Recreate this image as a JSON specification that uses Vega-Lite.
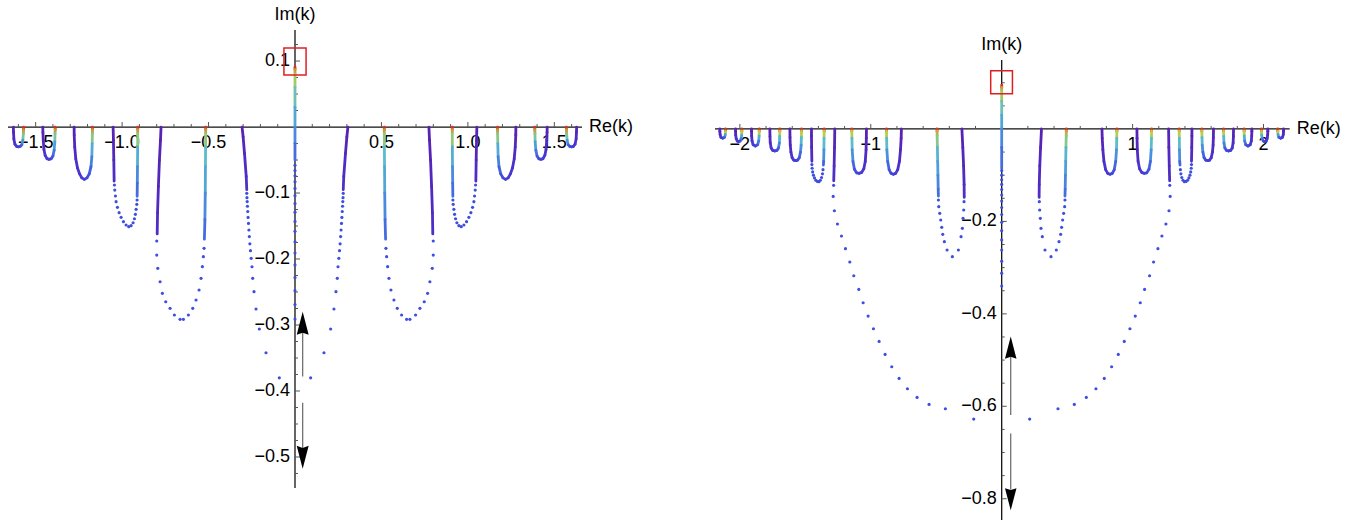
{
"$schema":"https://vega.github.io/schema/vega-lite/v6.json",
"background":"white",
"padding":0,
"config":{"view":{"stroke":null}},
"spacing":133,
"bounds":"flush",
"datasets":{
"axL":[{"x":-1.66,"y":0,"x2":1.66,"y2":0},{"x":0,"y":-0.547,"x2":0,"y2":0.147}],
"axR":[{"x":-2.19,"y":0,"x2":2.2,"y2":0},{"x":0,"y":-0.846,"x2":0,"y2":0.149}],
"xmajL":[{"v":-1.5},{"v":-1},{"v":-0.5},{"v":0.5},{"v":1},{"v":1.5}],
"xminL":[{"v":-1.6},{"v":-1.4},{"v":-1.3},{"v":-1.2},{"v":-1.1},{"v":-0.9},{"v":-0.8},{"v":-0.7},{"v":-0.6},{"v":-0.4},{"v":-0.3},{"v":-0.2},{"v":-0.1},{"v":0.1},{"v":0.2},{"v":0.3},{"v":0.4},{"v":0.6},{"v":0.7},{"v":0.8},{"v":0.9},{"v":1.1},{"v":1.2},{"v":1.3},{"v":1.4},{"v":1.6}],
"ymajL":[{"v":-0.5},{"v":-0.4},{"v":-0.3},{"v":-0.2},{"v":-0.1},{"v":0.1}],
"yminL":[{"v":-0.525},{"v":-0.475},{"v":-0.45},{"v":-0.425},{"v":-0.375},{"v":-0.35},{"v":-0.325},{"v":-0.275},{"v":-0.25},{"v":-0.225},{"v":-0.175},{"v":-0.15},{"v":-0.125},{"v":-0.075},{"v":-0.05},{"v":-0.025},{"v":0.025},{"v":0.05},{"v":0.075},{"v":0.125}],
"xmajR":[{"v":-2},{"v":-1},{"v":1},{"v":2}],
"xminR":[{"v":-1.8},{"v":-1.6},{"v":-1.4},{"v":-1.2},{"v":-0.8},{"v":-0.6},{"v":-0.4},{"v":-0.2},{"v":0.2},{"v":0.4},{"v":0.6},{"v":0.8},{"v":1.2},{"v":1.4},{"v":1.6},{"v":1.8}],
"ymajR":[{"v":-0.8},{"v":-0.6},{"v":-0.4},{"v":-0.2}],
"yminR":[{"v":-0.75},{"v":-0.7},{"v":-0.65},{"v":-0.55},{"v":-0.5},{"v":-0.45},{"v":-0.35},{"v":-0.3},{"v":-0.25},{"v":-0.15},{"v":-0.1},{"v":-0.05},{"v":0.05},{"v":0.1}],
"cL":[
{"c":"L0","x":0,"y":0.091,"t":1},{"c":"L0","x":0,"y":0.087,"t":0.93},{"c":"L0","x":0,"y":0.08,"t":0.88},{"c":"L0","x":0,"y":0.06,"t":0.82},{"c":"L0","x":0,"y":0.03,"t":0.74},{"c":"L0","x":0,"y":0,"t":0.66},{"c":"L0","x":0,"y":-0.025,"t":0.58},{"c":"L0","x":0,"y":-0.05,"t":0.5},
{"c":"L1","x":-1.57,"y":0,"t":1},{"c":"L1","x":-1.57,"y":-0.004,"t":0.93},{"c":"L1","x":-1.571,"y":-0.01,"t":0.84},{"c":"L1","x":-1.574,"y":-0.02,"t":0.7},{"c":"L1","x":-1.58,"y":-0.027,"t":0.55},{"c":"L1","x":-1.59,"y":-0.0295,"t":0.45},{"c":"L1","x":-1.6,"y":-0.03,"t":0.4},{"c":"L1","x":-1.61,"y":-0.0295,"t":0.35},{"c":"L1","x":-1.62,"y":-0.026,"t":0.28},{"c":"L1","x":-1.626,"y":-0.018,"t":0.18},{"c":"L1","x":-1.628,"y":-0.008,"t":0.08},{"c":"L1","x":-1.629,"y":0,"t":0},
{"c":"L1p","x":1.57,"y":0,"t":1},{"c":"L1p","x":1.57,"y":-0.004,"t":0.93},{"c":"L1p","x":1.571,"y":-0.01,"t":0.84},{"c":"L1p","x":1.574,"y":-0.02,"t":0.7},{"c":"L1p","x":1.58,"y":-0.027,"t":0.55},{"c":"L1p","x":1.59,"y":-0.0295,"t":0.45},{"c":"L1p","x":1.6,"y":-0.03,"t":0.4},{"c":"L1p","x":1.61,"y":-0.0295,"t":0.35},{"c":"L1p","x":1.62,"y":-0.026,"t":0.28},{"c":"L1p","x":1.626,"y":-0.018,"t":0.18},{"c":"L1p","x":1.628,"y":-0.008,"t":0.08},{"c":"L1p","x":1.629,"y":0,"t":0},
{"c":"L2","x":-1.387,"y":0,"t":1},{"c":"L2","x":-1.387,"y":-0.004,"t":0.93},{"c":"L2","x":-1.388,"y":-0.01,"t":0.84},{"c":"L2","x":-1.389,"y":-0.022,"t":0.72},{"c":"L2","x":-1.393,"y":-0.035,"t":0.6},{"c":"L2","x":-1.4,"y":-0.044,"t":0.5},{"c":"L2","x":-1.41,"y":-0.048,"t":0.44},{"c":"L2","x":-1.422,"y":-0.049,"t":0.4},{"c":"L2","x":-1.434,"y":-0.048,"t":0.35},{"c":"L2","x":-1.445,"y":-0.043,"t":0.3},{"c":"L2","x":-1.452,"y":-0.034,"t":0.22},{"c":"L2","x":-1.456,"y":-0.02,"t":0.12},{"c":"L2","x":-1.458,"y":-0.008,"t":0.06},{"c":"L2","x":-1.4586,"y":0,"t":0},
{"c":"L2p","x":1.387,"y":0,"t":1},{"c":"L2p","x":1.387,"y":-0.004,"t":0.93},{"c":"L2p","x":1.388,"y":-0.01,"t":0.84},{"c":"L2p","x":1.389,"y":-0.022,"t":0.72},{"c":"L2p","x":1.393,"y":-0.035,"t":0.6},{"c":"L2p","x":1.4,"y":-0.044,"t":0.5},{"c":"L2p","x":1.41,"y":-0.048,"t":0.44},{"c":"L2p","x":1.422,"y":-0.049,"t":0.4},{"c":"L2p","x":1.434,"y":-0.048,"t":0.35},{"c":"L2p","x":1.445,"y":-0.043,"t":0.3},{"c":"L2p","x":1.452,"y":-0.034,"t":0.22},{"c":"L2p","x":1.456,"y":-0.02,"t":0.12},{"c":"L2p","x":1.458,"y":-0.008,"t":0.06},{"c":"L2p","x":1.4586,"y":0,"t":0},
{"c":"L3","x":-1.1715,"y":0,"t":1},{"c":"L3","x":-1.1715,"y":-0.004,"t":0.93},{"c":"L3","x":-1.172,"y":-0.01,"t":0.85},{"c":"L3","x":-1.173,"y":-0.025,"t":0.75},{"c":"L3","x":-1.175,"y":-0.045,"t":0.64},{"c":"L3","x":-1.18,"y":-0.06,"t":0.55},{"c":"L3","x":-1.19,"y":-0.071,"t":0.48},{"c":"L3","x":-1.203,"y":-0.077,"t":0.43},{"c":"L3","x":-1.218,"y":-0.0793,"t":0.39},{"c":"L3","x":-1.233,"y":-0.077,"t":0.34},{"c":"L3","x":-1.246,"y":-0.071,"t":0.29},{"c":"L3","x":-1.258,"y":-0.062,"t":0.24},{"c":"L3","x":-1.268,"y":-0.048,"t":0.18},{"c":"L3","x":-1.274,"y":-0.03,"t":0.11},{"c":"L3","x":-1.277,"y":-0.012,"t":0.05},{"c":"L3","x":-1.2775,"y":0,"t":0},
{"c":"L3p","x":1.1715,"y":0,"t":1},{"c":"L3p","x":1.1715,"y":-0.004,"t":0.93},{"c":"L3p","x":1.172,"y":-0.01,"t":0.85},{"c":"L3p","x":1.173,"y":-0.025,"t":0.75},{"c":"L3p","x":1.175,"y":-0.045,"t":0.64},{"c":"L3p","x":1.18,"y":-0.06,"t":0.55},{"c":"L3p","x":1.19,"y":-0.071,"t":0.48},{"c":"L3p","x":1.203,"y":-0.077,"t":0.43},{"c":"L3p","x":1.218,"y":-0.0793,"t":0.39},{"c":"L3p","x":1.233,"y":-0.077,"t":0.34},{"c":"L3p","x":1.246,"y":-0.071,"t":0.29},{"c":"L3p","x":1.258,"y":-0.062,"t":0.24},{"c":"L3p","x":1.268,"y":-0.048,"t":0.18},{"c":"L3p","x":1.274,"y":-0.03,"t":0.11},{"c":"L3p","x":1.277,"y":-0.012,"t":0.05},{"c":"L3p","x":1.2775,"y":0,"t":0},
{"c":"L4a","x":-0.9095,"y":0,"t":1},{"c":"L4a","x":-0.9095,"y":-0.004,"t":0.93},{"c":"L4a","x":-0.9097,"y":-0.01,"t":0.86},{"c":"L4a","x":-0.91,"y":-0.03,"t":0.76},{"c":"L4a","x":-0.911,"y":-0.06,"t":0.66},{"c":"L4a","x":-0.912,"y":-0.085,"t":0.58},{"c":"L4a","x":-0.913,"y":-0.105,"t":0.52},
{"c":"L4b","x":-1.046,"y":-0.082,"t":0.2},{"c":"L4b","x":-1.048,"y":-0.05,"t":0.12},{"c":"L4b","x":-1.05,"y":-0.02,"t":0.05},{"c":"L4b","x":-1.052,"y":0,"t":0},
{"c":"L4ap","x":0.9095,"y":0,"t":1},{"c":"L4ap","x":0.9095,"y":-0.004,"t":0.93},{"c":"L4ap","x":0.9097,"y":-0.01,"t":0.86},{"c":"L4ap","x":0.91,"y":-0.03,"t":0.76},{"c":"L4ap","x":0.911,"y":-0.06,"t":0.66},{"c":"L4ap","x":0.912,"y":-0.085,"t":0.58},{"c":"L4ap","x":0.913,"y":-0.105,"t":0.52},
{"c":"L4bp","x":1.046,"y":-0.082,"t":0.2},{"c":"L4bp","x":1.048,"y":-0.05,"t":0.12},{"c":"L4bp","x":1.05,"y":-0.02,"t":0.05},{"c":"L4bp","x":1.052,"y":0,"t":0},
{"c":"L5a","x":-0.5164,"y":0,"t":1},{"c":"L5a","x":-0.5164,"y":-0.004,"t":0.93},{"c":"L5a","x":-0.5166,"y":-0.01,"t":0.86},{"c":"L5a","x":-0.517,"y":-0.03,"t":0.8},{"c":"L5a","x":-0.518,"y":-0.06,"t":0.74},{"c":"L5a","x":-0.519,"y":-0.1,"t":0.66},{"c":"L5a","x":-0.521,"y":-0.14,"t":0.58},{"c":"L5a","x":-0.524,"y":-0.17,"t":0.52},
{"c":"L5b","x":-0.797,"y":-0.162,"t":0.22},{"c":"L5b","x":-0.795,"y":-0.13,"t":0.17},{"c":"L5b","x":-0.79,"y":-0.09,"t":0.12},{"c":"L5b","x":-0.784,"y":-0.05,"t":0.07},{"c":"L5b","x":-0.778,"y":-0.02,"t":0.03},{"c":"L5b","x":-0.7746,"y":0,"t":0},
{"c":"L5ap","x":0.5164,"y":0,"t":1},{"c":"L5ap","x":0.5164,"y":-0.004,"t":0.93},{"c":"L5ap","x":0.5166,"y":-0.01,"t":0.86},{"c":"L5ap","x":0.517,"y":-0.03,"t":0.8},{"c":"L5ap","x":0.518,"y":-0.06,"t":0.74},{"c":"L5ap","x":0.519,"y":-0.1,"t":0.66},{"c":"L5ap","x":0.521,"y":-0.14,"t":0.58},{"c":"L5ap","x":0.524,"y":-0.17,"t":0.52},
{"c":"L5bp","x":0.797,"y":-0.162,"t":0.22},{"c":"L5bp","x":0.795,"y":-0.13,"t":0.17},{"c":"L5bp","x":0.79,"y":-0.09,"t":0.12},{"c":"L5bp","x":0.784,"y":-0.05,"t":0.07},{"c":"L5bp","x":0.778,"y":-0.02,"t":0.03},{"c":"L5bp","x":0.7746,"y":0,"t":0},
{"c":"L6","x":-0.279,"y":-0.095,"t":0.25},{"c":"L6","x":-0.282,"y":-0.075,"t":0.2},{"c":"L6","x":-0.292,"y":-0.04,"t":0.1},{"c":"L6","x":-0.3,"y":-0.015,"t":0.04},{"c":"L6","x":-0.306,"y":0,"t":0},
{"c":"L6p","x":0.279,"y":-0.095,"t":0.25},{"c":"L6p","x":0.282,"y":-0.075,"t":0.2},{"c":"L6p","x":0.292,"y":-0.04,"t":0.1},{"c":"L6p","x":0.3,"y":-0.015,"t":0.04},{"c":"L6p","x":0.306,"y":0,"t":0}
],
"dL":[
{"x":0,"y":-0.058},{"x":0,"y":-0.066},{"x":0,"y":-0.074},{"x":0,"y":-0.083},{"x":0,"y":-0.093},{"x":0,"y":-0.104},{"x":0,"y":-0.116},{"x":0,"y":-0.129},{"x":0,"y":-0.143},{"x":0,"y":-0.158},{"x":0,"y":-0.174},{"x":0,"y":-0.191},{"x":0,"y":-0.209},{"x":0,"y":-0.228},{"x":0,"y":-0.248},{"x":0,"y":-0.269},{"x":0,"y":-0.291},
{"x":-1.0444,"y":-0.0879},{"x":-1.0424,"y":-0.0955},{"x":-1.0385,"y":-0.1045},{"x":-1.0347,"y":-0.1131},{"x":-1.027,"y":-0.1217},{"x":-1.0173,"y":-0.1298},{"x":-1.0058,"y":-0.1369},{"x":-0.9923,"y":-0.1434},{"x":-0.9769,"y":-0.1485},{"x":-0.9615,"y":-0.151},{"x":-0.948,"y":-0.1495},{"x":-0.9364,"y":-0.145},{"x":-0.9287,"y":-0.139},{"x":-0.923,"y":-0.1323},{"x":-0.919,"y":-0.1247},{"x":-0.915,"y":-0.1172},{"x":-0.9133,"y":-0.1106},
{"x":1.0444,"y":-0.0879},{"x":1.0424,"y":-0.0955},{"x":1.0385,"y":-0.1045},{"x":1.0347,"y":-0.1131},{"x":1.027,"y":-0.1217},{"x":1.0173,"y":-0.1298},{"x":1.0058,"y":-0.1369},{"x":0.9923,"y":-0.1434},{"x":0.9769,"y":-0.1485},{"x":0.9615,"y":-0.151},{"x":0.948,"y":-0.1495},{"x":0.9364,"y":-0.145},{"x":0.9287,"y":-0.139},{"x":0.923,"y":-0.1323},{"x":0.919,"y":-0.1247},{"x":0.915,"y":-0.1172},{"x":0.9133,"y":-0.1106},
{"x":-0.7996,"y":-0.1727},{"x":-0.7996,"y":-0.194},{"x":-0.7938,"y":-0.2141},{"x":-0.7803,"y":-0.2344},{"x":-0.7669,"y":-0.252},{"x":-0.7476,"y":-0.2647},{"x":-0.7225,"y":-0.2747},{"x":-0.6975,"y":-0.2848},{"x":-0.6647,"y":-0.2914},{"x":-0.6455,"y":-0.2914},{"x":-0.6166,"y":-0.2848},{"x":-0.5915,"y":-0.2747},{"x":-0.5723,"y":-0.2621},{"x":-0.5549,"y":-0.247},{"x":-0.5434,"y":-0.2293},{"x":-0.5358,"y":-0.2116},{"x":-0.53,"y":-0.1965},{"x":-0.526,"y":-0.1838},
{"x":0.7996,"y":-0.1727},{"x":0.7996,"y":-0.194},{"x":0.7938,"y":-0.2141},{"x":0.7803,"y":-0.2344},{"x":0.7669,"y":-0.252},{"x":0.7476,"y":-0.2647},{"x":0.7225,"y":-0.2747},{"x":0.6975,"y":-0.2848},{"x":0.6647,"y":-0.2914},{"x":0.6455,"y":-0.2914},{"x":0.6166,"y":-0.2848},{"x":0.5915,"y":-0.2747},{"x":0.5723,"y":-0.2621},{"x":0.5549,"y":-0.247},{"x":0.5434,"y":-0.2293},{"x":0.5358,"y":-0.2116},{"x":0.53,"y":-0.1965},{"x":0.526,"y":-0.1838},
{"x":-0.279,"y":-0.1005},{"x":-0.2778,"y":-0.107},{"x":-0.2765,"y":-0.113},{"x":-0.275,"y":-0.12},{"x":-0.2733,"y":-0.128},{"x":-0.2713,"y":-0.137},{"x":-0.269,"y":-0.146},{"x":-0.2665,"y":-0.156},{"x":-0.264,"y":-0.166},{"x":-0.261,"y":-0.177},{"x":-0.2575,"y":-0.1874},{"x":-0.2535,"y":-0.199},{"x":-0.2486,"y":-0.2117},{"x":-0.2447,"y":-0.2293},{"x":-0.237,"y":-0.2495},{"x":-0.2254,"y":-0.2758},{"x":-0.2062,"y":-0.306},{"x":-0.1676,"y":-0.342},{"x":-0.0906,"y":-0.38},
{"x":0.279,"y":-0.1005},{"x":0.2778,"y":-0.107},{"x":0.2765,"y":-0.113},{"x":0.275,"y":-0.12},{"x":0.2733,"y":-0.128},{"x":0.2713,"y":-0.137},{"x":0.269,"y":-0.146},{"x":0.2665,"y":-0.156},{"x":0.264,"y":-0.166},{"x":0.261,"y":-0.177},{"x":0.2575,"y":-0.1874},{"x":0.2535,"y":-0.199},{"x":0.2486,"y":-0.2117},{"x":0.2447,"y":-0.2293},{"x":0.237,"y":-0.2495},{"x":0.2254,"y":-0.2758},{"x":0.2062,"y":-0.306},{"x":0.1676,"y":-0.342},{"x":0.0906,"y":-0.38}
],
"cR":[
{"c":"R0","x":0,"y":0.095,"t":1},{"c":"R0","x":0,"y":0.09,"t":0.93},{"c":"R0","x":0,"y":0.083,"t":0.88},{"c":"R0","x":0,"y":0.06,"t":0.82},{"c":"R0","x":0,"y":0.03,"t":0.74},{"c":"R0","x":0,"y":0,"t":0.66},{"c":"R0","x":0,"y":-0.04,"t":0.58},{"c":"R0","x":0,"y":-0.085,"t":0.5},
{"c":"R1","x":-2.109,"y":0,"t":1},{"c":"R1","x":-2.109,"y":-0.005,"t":0.9},{"c":"R1","x":-2.111,"y":-0.012,"t":0.72},{"c":"R1","x":-2.117,"y":-0.018,"t":0.55},{"c":"R1","x":-2.131,"y":-0.02,"t":0.42},{"c":"R1","x":-2.145,"y":-0.018,"t":0.3},{"c":"R1","x":-2.151,"y":-0.012,"t":0.18},{"c":"R1","x":-2.153,"y":-0.005,"t":0.08},{"c":"R1","x":-2.153,"y":0,"t":0},
{"c":"R1p","x":2.109,"y":0,"t":1},{"c":"R1p","x":2.109,"y":-0.005,"t":0.9},{"c":"R1p","x":2.111,"y":-0.012,"t":0.72},{"c":"R1p","x":2.117,"y":-0.018,"t":0.55},{"c":"R1p","x":2.131,"y":-0.02,"t":0.42},{"c":"R1p","x":2.145,"y":-0.018,"t":0.3},{"c":"R1p","x":2.151,"y":-0.012,"t":0.18},{"c":"R1p","x":2.153,"y":-0.005,"t":0.08},{"c":"R1p","x":2.153,"y":0,"t":0},
{"c":"R2","x":-1.985,"y":0,"t":1},{"c":"R2","x":-1.985,"y":-0.005,"t":0.9},{"c":"R2","x":-1.986,"y":-0.013,"t":0.75},{"c":"R2","x":-1.99,"y":-0.021,"t":0.6},{"c":"R2","x":-1.998,"y":-0.026,"t":0.48},{"c":"R2","x":-2.009,"y":-0.0274,"t":0.42},{"c":"R2","x":-2.02,"y":-0.026,"t":0.35},{"c":"R2","x":-2.028,"y":-0.021,"t":0.25},{"c":"R2","x":-2.032,"y":-0.013,"t":0.15},{"c":"R2","x":-2.033,"y":-0.005,"t":0.06},{"c":"R2","x":-2.033,"y":0,"t":0},
{"c":"R2p","x":1.985,"y":0,"t":1},{"c":"R2p","x":1.985,"y":-0.005,"t":0.9},{"c":"R2p","x":1.986,"y":-0.013,"t":0.75},{"c":"R2p","x":1.99,"y":-0.021,"t":0.6},{"c":"R2p","x":1.998,"y":-0.026,"t":0.48},{"c":"R2p","x":2.009,"y":-0.0274,"t":0.42},{"c":"R2p","x":2.02,"y":-0.026,"t":0.35},{"c":"R2p","x":2.028,"y":-0.021,"t":0.25},{"c":"R2p","x":2.032,"y":-0.013,"t":0.15},{"c":"R2p","x":2.033,"y":-0.005,"t":0.06},{"c":"R2p","x":2.033,"y":0,"t":0},
{"c":"R3","x":-1.852,"y":0,"t":1},{"c":"R3","x":-1.852,"y":-0.005,"t":0.9},{"c":"R3","x":-1.853,"y":-0.015,"t":0.76},{"c":"R3","x":-1.856,"y":-0.026,"t":0.62},{"c":"R3","x":-1.864,"y":-0.034,"t":0.5},{"c":"R3","x":-1.8815,"y":-0.0368,"t":0.42},{"c":"R3","x":-1.899,"y":-0.034,"t":0.34},{"c":"R3","x":-1.907,"y":-0.026,"t":0.24},{"c":"R3","x":-1.91,"y":-0.015,"t":0.13},{"c":"R3","x":-1.911,"y":-0.005,"t":0.05},{"c":"R3","x":-1.911,"y":0,"t":0},
{"c":"R3p","x":1.852,"y":0,"t":1},{"c":"R3p","x":1.852,"y":-0.005,"t":0.9},{"c":"R3p","x":1.853,"y":-0.015,"t":0.76},{"c":"R3p","x":1.856,"y":-0.026,"t":0.62},{"c":"R3p","x":1.864,"y":-0.034,"t":0.5},{"c":"R3p","x":1.8815,"y":-0.0368,"t":0.42},{"c":"R3p","x":1.899,"y":-0.034,"t":0.34},{"c":"R3p","x":1.907,"y":-0.026,"t":0.24},{"c":"R3p","x":1.91,"y":-0.015,"t":0.13},{"c":"R3p","x":1.911,"y":-0.005,"t":0.05},{"c":"R3p","x":1.911,"y":0,"t":0},
{"c":"R4","x":-1.695,"y":0,"t":1},{"c":"R4","x":-1.695,"y":-0.005,"t":0.9},{"c":"R4","x":-1.696,"y":-0.016,"t":0.78},{"c":"R4","x":-1.698,"y":-0.03,"t":0.64},{"c":"R4","x":-1.705,"y":-0.041,"t":0.52},{"c":"R4","x":-1.717,"y":-0.0465,"t":0.45},{"c":"R4","x":-1.733,"y":-0.0476,"t":0.4},{"c":"R4","x":-1.749,"y":-0.0465,"t":0.34},{"c":"R4","x":-1.761,"y":-0.041,"t":0.27},{"c":"R4","x":-1.768,"y":-0.03,"t":0.18},{"c":"R4","x":-1.77,"y":-0.016,"t":0.09},{"c":"R4","x":-1.771,"y":0,"t":0},
{"c":"R4p","x":1.695,"y":0,"t":1},{"c":"R4p","x":1.695,"y":-0.005,"t":0.9},{"c":"R4p","x":1.696,"y":-0.016,"t":0.78},{"c":"R4p","x":1.698,"y":-0.03,"t":0.64},{"c":"R4p","x":1.705,"y":-0.041,"t":0.52},{"c":"R4p","x":1.717,"y":-0.0465,"t":0.45},{"c":"R4p","x":1.733,"y":-0.0476,"t":0.4},{"c":"R4p","x":1.749,"y":-0.0465,"t":0.34},{"c":"R4p","x":1.761,"y":-0.041,"t":0.27},{"c":"R4p","x":1.768,"y":-0.03,"t":0.18},{"c":"R4p","x":1.77,"y":-0.016,"t":0.09},{"c":"R4p","x":1.771,"y":0,"t":0},
{"c":"R5","x":-1.529,"y":0,"t":1},{"c":"R5","x":-1.529,"y":-0.005,"t":0.9},{"c":"R5","x":-1.53,"y":-0.018,"t":0.79},{"c":"R5","x":-1.532,"y":-0.035,"t":0.67},{"c":"R5","x":-1.537,"y":-0.05,"t":0.56},{"c":"R5","x":-1.546,"y":-0.062,"t":0.48},{"c":"R5","x":-1.559,"y":-0.0675,"t":0.43},{"c":"R5","x":-1.5735,"y":-0.0685,"t":0.39},{"c":"R5","x":-1.588,"y":-0.0675,"t":0.34},{"c":"R5","x":-1.601,"y":-0.062,"t":0.28},{"c":"R5","x":-1.61,"y":-0.05,"t":0.2},{"c":"R5","x":-1.615,"y":-0.035,"t":0.13},{"c":"R5","x":-1.617,"y":-0.018,"t":0.06},{"c":"R5","x":-1.618,"y":0,"t":0},
{"c":"R5p","x":1.529,"y":0,"t":1},{"c":"R5p","x":1.529,"y":-0.005,"t":0.9},{"c":"R5p","x":1.53,"y":-0.018,"t":0.79},{"c":"R5p","x":1.532,"y":-0.035,"t":0.67},{"c":"R5p","x":1.537,"y":-0.05,"t":0.56},{"c":"R5p","x":1.546,"y":-0.062,"t":0.48},{"c":"R5p","x":1.559,"y":-0.0675,"t":0.43},{"c":"R5p","x":1.5735,"y":-0.0685,"t":0.39},{"c":"R5p","x":1.588,"y":-0.0675,"t":0.34},{"c":"R5p","x":1.601,"y":-0.062,"t":0.28},{"c":"R5p","x":1.61,"y":-0.05,"t":0.2},{"c":"R5p","x":1.615,"y":-0.035,"t":0.13},{"c":"R5p","x":1.617,"y":-0.018,"t":0.06},{"c":"R5p","x":1.618,"y":0,"t":0},
{"c":"R6a","x":-1.356,"y":0,"t":1},{"c":"R6a","x":-1.356,"y":-0.005,"t":0.9},{"c":"R6a","x":-1.357,"y":-0.02,"t":0.8},{"c":"R6a","x":-1.358,"y":-0.045,"t":0.68},{"c":"R6a","x":-1.36,"y":-0.07,"t":0.56},{"c":"R6a","x":-1.362,"y":-0.078,"t":0.52},
{"c":"R6b","x":-1.45,"y":-0.07,"t":0.2},{"c":"R6b","x":-1.452,"y":-0.04,"t":0.12},{"c":"R6b","x":-1.453,"y":-0.015,"t":0.05},{"c":"R6b","x":-1.453,"y":0,"t":0},
{"c":"R6ap","x":1.356,"y":0,"t":1},{"c":"R6ap","x":1.356,"y":-0.005,"t":0.9},{"c":"R6ap","x":1.357,"y":-0.02,"t":0.8},{"c":"R6ap","x":1.358,"y":-0.045,"t":0.68},{"c":"R6ap","x":1.36,"y":-0.07,"t":0.56},{"c":"R6ap","x":1.362,"y":-0.078,"t":0.52},
{"c":"R6bp","x":1.45,"y":-0.07,"t":0.2},{"c":"R6bp","x":1.452,"y":-0.04,"t":0.12},{"c":"R6bp","x":1.453,"y":-0.015,"t":0.05},{"c":"R6bp","x":1.453,"y":0,"t":0},
{"c":"R7","x":-1.283,"y":-0.112,"t":0.22},{"c":"R7","x":-1.28,"y":-0.08,"t":0.15},{"c":"R7","x":-1.277,"y":-0.04,"t":0.08},{"c":"R7","x":-1.275,"y":0,"t":0},
{"c":"R7p","x":1.283,"y":-0.112,"t":0.22},{"c":"R7p","x":1.28,"y":-0.08,"t":0.15},{"c":"R7p","x":1.277,"y":-0.04,"t":0.08},{"c":"R7p","x":1.275,"y":0,"t":0},
{"c":"R8","x":-1.145,"y":0,"t":1},{"c":"R8","x":-1.145,"y":-0.005,"t":0.9},{"c":"R8","x":-1.144,"y":-0.02,"t":0.8},{"c":"R8","x":-1.142,"y":-0.045,"t":0.68},{"c":"R8","x":-1.136,"y":-0.07,"t":0.56},{"c":"R8","x":-1.125,"y":-0.087,"t":0.48},{"c":"R8","x":-1.108,"y":-0.095,"t":0.43},{"c":"R8","x":-1.089,"y":-0.096,"t":0.39},{"c":"R8","x":-1.07,"y":-0.094,"t":0.34},{"c":"R8","x":-1.053,"y":-0.086,"t":0.28},{"c":"R8","x":-1.042,"y":-0.07,"t":0.2},{"c":"R8","x":-1.036,"y":-0.045,"t":0.12},{"c":"R8","x":-1.034,"y":-0.02,"t":0.05},{"c":"R8","x":-1.033,"y":0,"t":0},
{"c":"R8p","x":1.145,"y":0,"t":1},{"c":"R8p","x":1.145,"y":-0.005,"t":0.9},{"c":"R8p","x":1.144,"y":-0.02,"t":0.8},{"c":"R8p","x":1.142,"y":-0.045,"t":0.68},{"c":"R8p","x":1.136,"y":-0.07,"t":0.56},{"c":"R8p","x":1.125,"y":-0.087,"t":0.48},{"c":"R8p","x":1.108,"y":-0.095,"t":0.43},{"c":"R8p","x":1.089,"y":-0.096,"t":0.39},{"c":"R8p","x":1.07,"y":-0.094,"t":0.34},{"c":"R8p","x":1.053,"y":-0.086,"t":0.28},{"c":"R8p","x":1.042,"y":-0.07,"t":0.2},{"c":"R8p","x":1.036,"y":-0.045,"t":0.12},{"c":"R8p","x":1.034,"y":-0.02,"t":0.05},{"c":"R8p","x":1.033,"y":0,"t":0},
{"c":"R9","x":-0.88,"y":0,"t":1},{"c":"R9","x":-0.88,"y":-0.005,"t":0.9},{"c":"R9","x":-0.879,"y":-0.02,"t":0.8},{"c":"R9","x":-0.877,"y":-0.045,"t":0.68},{"c":"R9","x":-0.871,"y":-0.07,"t":0.56},{"c":"R9","x":-0.86,"y":-0.088,"t":0.48},{"c":"R9","x":-0.845,"y":-0.096,"t":0.43},{"c":"R9","x":-0.8275,"y":-0.098,"t":0.39},{"c":"R9","x":-0.81,"y":-0.096,"t":0.34},{"c":"R9","x":-0.794,"y":-0.088,"t":0.28},{"c":"R9","x":-0.781,"y":-0.07,"t":0.2},{"c":"R9","x":-0.773,"y":-0.045,"t":0.12},{"c":"R9","x":-0.768,"y":-0.02,"t":0.05},{"c":"R9","x":-0.766,"y":0,"t":0},
{"c":"R9p","x":0.88,"y":0,"t":1},{"c":"R9p","x":0.88,"y":-0.005,"t":0.9},{"c":"R9p","x":0.879,"y":-0.02,"t":0.8},{"c":"R9p","x":0.877,"y":-0.045,"t":0.68},{"c":"R9p","x":0.871,"y":-0.07,"t":0.56},{"c":"R9p","x":0.86,"y":-0.088,"t":0.48},{"c":"R9p","x":0.845,"y":-0.096,"t":0.43},{"c":"R9p","x":0.8275,"y":-0.098,"t":0.39},{"c":"R9p","x":0.81,"y":-0.096,"t":0.34},{"c":"R9p","x":0.794,"y":-0.088,"t":0.28},{"c":"R9p","x":0.781,"y":-0.07,"t":0.2},{"c":"R9p","x":0.773,"y":-0.045,"t":0.12},{"c":"R9p","x":0.768,"y":-0.02,"t":0.05},{"c":"R9p","x":0.766,"y":0,"t":0},
{"c":"R10a","x":-0.4936,"y":0,"t":1},{"c":"R10a","x":-0.4936,"y":-0.005,"t":0.92},{"c":"R10a","x":-0.493,"y":-0.015,"t":0.85},{"c":"R10a","x":-0.491,"y":-0.04,"t":0.78},{"c":"R10a","x":-0.489,"y":-0.07,"t":0.72},{"c":"R10a","x":-0.487,"y":-0.1,"t":0.65},{"c":"R10a","x":-0.485,"y":-0.13,"t":0.58},{"c":"R10a","x":-0.4835,"y":-0.145,"t":0.54},
{"c":"R10b","x":-0.286,"y":-0.148,"t":0.22},{"c":"R10b","x":-0.287,"y":-0.12,"t":0.17},{"c":"R10b","x":-0.291,"y":-0.08,"t":0.11},{"c":"R10b","x":-0.297,"y":-0.04,"t":0.05},{"c":"R10b","x":-0.304,"y":0,"t":0},
{"c":"R10ap","x":0.4936,"y":0,"t":1},{"c":"R10ap","x":0.4936,"y":-0.005,"t":0.92},{"c":"R10ap","x":0.493,"y":-0.015,"t":0.85},{"c":"R10ap","x":0.491,"y":-0.04,"t":0.78},{"c":"R10ap","x":0.489,"y":-0.07,"t":0.72},{"c":"R10ap","x":0.487,"y":-0.1,"t":0.65},{"c":"R10ap","x":0.485,"y":-0.13,"t":0.58},{"c":"R10ap","x":0.4835,"y":-0.145,"t":0.54},
{"c":"R10bp","x":0.286,"y":-0.148,"t":0.22},{"c":"R10bp","x":0.287,"y":-0.12,"t":0.17},{"c":"R10bp","x":0.291,"y":-0.08,"t":0.11},{"c":"R10bp","x":0.297,"y":-0.04,"t":0.05},{"c":"R10bp","x":0.304,"y":0,"t":0}
],
"dR":[
{"x":0,"y":-0.09},{"x":0,"y":-0.1},{"x":0,"y":-0.11},{"x":0,"y":-0.12},{"x":0,"y":-0.131},{"x":0,"y":-0.143},{"x":0,"y":-0.156},{"x":0,"y":-0.17},{"x":0,"y":-0.185},{"x":0,"y":-0.202},{"x":0,"y":-0.22},{"x":0,"y":-0.24},{"x":0,"y":-0.262},{"x":0,"y":-0.286},{"x":0,"y":-0.312},{"x":0,"y":-0.34},
{"x":-1.45,"y":-0.077},{"x":-1.448,"y":-0.085},{"x":-1.444,"y":-0.093},{"x":-1.438,"y":-0.1},{"x":-1.43,"y":-0.106},{"x":-1.42,"y":-0.111},{"x":-1.408,"y":-0.1135},{"x":-1.396,"y":-0.114},{"x":-1.385,"y":-0.111},{"x":-1.376,"y":-0.105},{"x":-1.369,"y":-0.097},{"x":-1.365,"y":-0.088},
{"x":1.45,"y":-0.077},{"x":1.448,"y":-0.085},{"x":1.444,"y":-0.093},{"x":1.438,"y":-0.1},{"x":1.43,"y":-0.106},{"x":1.42,"y":-0.111},{"x":1.408,"y":-0.1135},{"x":1.396,"y":-0.114},{"x":1.385,"y":-0.111},{"x":1.376,"y":-0.105},{"x":1.369,"y":-0.097},{"x":1.365,"y":-0.088},
{"x":-1.284,"y":-0.122},{"x":-1.287,"y":-0.146},{"x":-1.278,"y":-0.177},{"x":-1.2545,"y":-0.2056},{"x":-1.2239,"y":-0.2316},{"x":-1.1934,"y":-0.259},{"x":-1.1603,"y":-0.2879},{"x":-1.1298,"y":-0.3175},{"x":-1.0916,"y":-0.3471},{"x":-1.0585,"y":-0.3759},{"x":-1.0204,"y":-0.4048},{"x":-0.9796,"y":-0.4322},{"x":-0.9364,"y":-0.4596},{"x":-0.8906,"y":-0.4877},{"x":-0.8397,"y":-0.5144},{"x":-0.7837,"y":-0.5397},{"x":-0.7201,"y":-0.562},{"x":-0.6463,"y":-0.5808},{"x":-0.5547,"y":-0.5959},{"x":-0.43,"y":-0.6053},{"x":-0.2137,"y":-0.6277},
{"x":1.284,"y":-0.122},{"x":1.287,"y":-0.146},{"x":1.278,"y":-0.177},{"x":1.2545,"y":-0.2056},{"x":1.2239,"y":-0.2316},{"x":1.1934,"y":-0.259},{"x":1.1603,"y":-0.2879},{"x":1.1298,"y":-0.3175},{"x":1.0916,"y":-0.3471},{"x":1.0585,"y":-0.3759},{"x":1.0204,"y":-0.4048},{"x":0.9796,"y":-0.4322},{"x":0.9364,"y":-0.4596},{"x":0.8906,"y":-0.4877},{"x":0.8397,"y":-0.5144},{"x":0.7837,"y":-0.5397},{"x":0.7201,"y":-0.562},{"x":0.6463,"y":-0.5808},{"x":0.5547,"y":-0.5959},{"x":0.43,"y":-0.6053},{"x":0.2137,"y":-0.6277},
{"x":-0.4834,"y":-0.1537},{"x":-0.4809,"y":-0.1681},{"x":-0.4733,"y":-0.1825},{"x":-0.4656,"y":-0.197},{"x":-0.458,"y":-0.2128},{"x":-0.4504,"y":-0.228},{"x":-0.4377,"y":-0.2439},{"x":-0.4173,"y":-0.2619},{"x":-0.3766,"y":-0.2763},{"x":-0.3308,"y":-0.2619},{"x":-0.3104,"y":-0.233},{"x":-0.3003,"y":-0.215},{"x":-0.2952,"y":-0.1934},{"x":-0.2901,"y":-0.1753},{"x":-0.2875,"y":-0.1573},
{"x":0.4834,"y":-0.1537},{"x":0.4809,"y":-0.1681},{"x":0.4733,"y":-0.1825},{"x":0.4656,"y":-0.197},{"x":0.458,"y":-0.2128},{"x":0.4504,"y":-0.228},{"x":0.4377,"y":-0.2439},{"x":0.4173,"y":-0.2619},{"x":0.3766,"y":-0.2763},{"x":0.3308,"y":-0.2619},{"x":0.3104,"y":-0.233},{"x":0.3003,"y":-0.215},{"x":0.2952,"y":-0.1934},{"x":0.2901,"y":-0.1753},{"x":0.2875,"y":-0.1573}
]
},
"hconcat":[
{
"width":582,"height":488,
"encoding":{
 "x":{"type":"quantitative","scale":{"domain":[-1.7062,1.66],"nice":false,"zero":false},"axis":null},
 "y":{"type":"quantitative","scale":{"domain":[-0.547,0.1925],"nice":false,"zero":false},"axis":null}
},
"layer":[
{"data":{"name":"axL"},"mark":{"type":"rule","color":"#111","strokeWidth":1.3},
 "encoding":{"x":{"field":"x","type":"quantitative"},"y":{"field":"y","type":"quantitative"},"x2":{"field":"x2"},"y2":{"field":"y2"}}},
{"data":{"name":"xmajL"},"mark":{"type":"rule","color":"#555","strokeWidth":1,"y2Offset":-5},
 "encoding":{"x":{"field":"v","type":"quantitative"},"y":{"datum":0,"type":"quantitative"},"y2":{"datum":0}}},
{"data":{"name":"xminL"},"mark":{"type":"rule","color":"#555","strokeWidth":1,"y2Offset":-3},
 "encoding":{"x":{"field":"v","type":"quantitative"},"y":{"datum":0,"type":"quantitative"},"y2":{"datum":0}}},
{"data":{"name":"ymajL"},"mark":{"type":"rule","color":"#555","strokeWidth":1,"x2Offset":5},
 "encoding":{"y":{"field":"v","type":"quantitative"},"x":{"datum":0,"type":"quantitative"},"x2":{"datum":0}}},
{"data":{"name":"yminL"},"mark":{"type":"rule","color":"#555","strokeWidth":1,"x2Offset":3},
 "encoding":{"y":{"field":"v","type":"quantitative"},"x":{"datum":0,"type":"quantitative"},"x2":{"datum":0}}},
{"data":{"name":"xmajL"},"mark":{"type":"text","align":"center","baseline":"top","dy":7,"font":"Liberation Sans","fontSize":18,"color":"#000"},
 "encoding":{"x":{"field":"v","type":"quantitative"},"y":{"datum":0,"type":"quantitative"},"text":{"field":"v","type":"quantitative","format":".1f"}}},
{"data":{"name":"ymajL"},"mark":{"type":"text","align":"right","baseline":"middle","dx":-5,"font":"Liberation Sans","fontSize":18,"color":"#000"},
 "encoding":{"y":{"field":"v","type":"quantitative"},"x":{"datum":0,"type":"quantitative"},"text":{"field":"v","type":"quantitative","format":".1f"}}},
{"data":{"name":"cL"},
 "transform":[{"window":[{"op":"lead","field":"x","as":"xe"},{"op":"lead","field":"y","as":"ye"}],"groupby":["c"],"sort":[{"field":"t","order":"descending"}]},{"filter":"isValid(datum.xe)"}],
 "mark":{"type":"rule","strokeWidth":2.8,"strokeCap":"round"},
 "encoding":{"x":{"field":"x","type":"quantitative"},"y":{"field":"y","type":"quantitative"},"x2":{"field":"xe"},"y2":{"field":"ye"},
  "color":{"field":"t","type":"quantitative","legend":null,"scale":{"domain":[0,0.2,0.4,0.55,0.7,0.8,0.9,1],"range":["#5a20b0","#4f2cc4","#4540d8","#4262e0","#4b98dc","#5cbccc","#b4cf4c","#e0301c"],"interpolate":"rgb"}}}},
{"data":{"name":"dL"},"mark":{"type":"point","filled":true,"shape":"circle","size":10,"color":"#3d4ee0","opacity":1},
 "encoding":{"x":{"field":"x","type":"quantitative"},"y":{"field":"y","type":"quantitative"}}},
{"data":{"values":[{"x":-0.064,"x2":0.064,"y":0.0788,"y2":0.1197}]},"mark":{"type":"rect","fill":null,"stroke":"#e02020","strokeWidth":1.5},
 "encoding":{"x":{"field":"x","type":"quantitative"},"y":{"field":"y","type":"quantitative"},"x2":{"field":"x2"},"y2":{"field":"y2"}}},
{"data":{"values":[{"x":0.0445,"y":-0.31,"y2":-0.378},{"x":0.0445,"y":-0.418,"y2":-0.49}]},"mark":{"type":"rule","color":"#666","strokeWidth":1.2},
 "encoding":{"x":{"field":"x","type":"quantitative"},"y":{"field":"y","type":"quantitative"},"y2":{"field":"y2"}}},
{"data":{"values":[{"x":0.0445,"y":-0.2975,"d":"up"},{"x":0.0445,"y":-0.5005,"d":"down"}]},"mark":{"type":"point","filled":true,"color":"#000","opacity":1,"size":529,"strokeWidth":0},
 "encoding":{"x":{"field":"x","type":"quantitative"},"y":{"field":"y","type":"quantitative"},
  "shape":{"field":"d","type":"nominal","legend":null,"scale":{"domain":["up","down"],"range":["M0,-1L0.52,1L0,0.82L-0.52,1Z","M0,1L0.52,-1L0,-0.82L-0.52,-1Z"]}}}},
{"data":{"values":[{"x":1.66,"y":0,"label":"Re(k)"}]},"mark":{"type":"text","align":"left","baseline":"middle","dx":7,"font":"Liberation Sans","fontSize":18,"color":"#000"},
 "encoding":{"x":{"field":"x","type":"quantitative"},"y":{"field":"y","type":"quantitative"},"text":{"field":"label"}}},
{"data":{"values":[{"x":0,"y":0.147,"label":"Im(k)"}]},"mark":{"type":"text","align":"center","baseline":"bottom","dy":-6,"font":"Liberation Sans","fontSize":18,"color":"#000"},
 "encoding":{"x":{"field":"x","type":"quantitative"},"y":{"field":"y","type":"quantitative"},"text":{"field":"label"}}}
]
},
{
"width":576,"height":520,
"encoding":{
 "x":{"type":"quantitative","scale":{"domain":[-2.19,2.21],"nice":false,"zero":false},"axis":null},
 "y":{"type":"quantitative","scale":{"domain":[-0.846,0.279],"nice":false,"zero":false},"axis":null}
},
"layer":[
{"data":{"name":"axR"},"mark":{"type":"rule","color":"#111","strokeWidth":1.3},
 "encoding":{"x":{"field":"x","type":"quantitative"},"y":{"field":"y","type":"quantitative"},"x2":{"field":"x2"},"y2":{"field":"y2"}}},
{"data":{"name":"xmajR"},"mark":{"type":"rule","color":"#555","strokeWidth":1,"y2Offset":-5},
 "encoding":{"x":{"field":"v","type":"quantitative"},"y":{"datum":0,"type":"quantitative"},"y2":{"datum":0}}},
{"data":{"name":"xminR"},"mark":{"type":"rule","color":"#555","strokeWidth":1,"y2Offset":-3},
 "encoding":{"x":{"field":"v","type":"quantitative"},"y":{"datum":0,"type":"quantitative"},"y2":{"datum":0}}},
{"data":{"name":"ymajR"},"mark":{"type":"rule","color":"#555","strokeWidth":1,"x2Offset":5},
 "encoding":{"y":{"field":"v","type":"quantitative"},"x":{"datum":0,"type":"quantitative"},"x2":{"datum":0}}},
{"data":{"name":"yminR"},"mark":{"type":"rule","color":"#555","strokeWidth":1,"x2Offset":3},
 "encoding":{"y":{"field":"v","type":"quantitative"},"x":{"datum":0,"type":"quantitative"},"x2":{"datum":0}}},
{"data":{"name":"xmajR"},"mark":{"type":"text","align":"center","baseline":"top","dy":7,"font":"Liberation Sans","fontSize":18,"color":"#000"},
 "encoding":{"x":{"field":"v","type":"quantitative"},"y":{"datum":0,"type":"quantitative"},"text":{"field":"v","type":"quantitative","format":"d"}}},
{"data":{"name":"ymajR"},"mark":{"type":"text","align":"right","baseline":"middle","dx":-5,"font":"Liberation Sans","fontSize":18,"color":"#000"},
 "encoding":{"y":{"field":"v","type":"quantitative"},"x":{"datum":0,"type":"quantitative"},"text":{"field":"v","type":"quantitative","format":".1f"}}},
{"data":{"name":"cR"},
 "transform":[{"window":[{"op":"lead","field":"x","as":"xe"},{"op":"lead","field":"y","as":"ye"}],"groupby":["c"],"sort":[{"field":"t","order":"descending"}]},{"filter":"isValid(datum.xe)"}],
 "mark":{"type":"rule","strokeWidth":2.8,"strokeCap":"round"},
 "encoding":{"x":{"field":"x","type":"quantitative"},"y":{"field":"y","type":"quantitative"},"x2":{"field":"xe"},"y2":{"field":"ye"},
  "color":{"field":"t","type":"quantitative","legend":null,"scale":{"domain":[0,0.2,0.4,0.55,0.7,0.8,0.9,1],"range":["#5a20b0","#4f2cc4","#4540d8","#4262e0","#4b98dc","#5cbccc","#b4cf4c","#e0301c"],"interpolate":"rgb"}}}},
{"data":{"name":"dR"},"mark":{"type":"point","filled":true,"shape":"circle","size":10,"color":"#3d4ee0","opacity":1},
 "encoding":{"x":{"field":"x","type":"quantitative"},"y":{"field":"y","type":"quantitative"}}},
{"data":{"values":[{"x":-0.084,"x2":0.082,"y":0.076,"y2":0.126}]},"mark":{"type":"rect","fill":null,"stroke":"#e02020","strokeWidth":1.5},
 "encoding":{"x":{"field":"x","type":"quantitative"},"y":{"field":"y","type":"quantitative"},"x2":{"field":"x2"},"y2":{"field":"y2"}}},
{"data":{"values":[{"x":0.069,"y":-0.49,"y2":-0.619},{"x":0.069,"y":-0.659,"y2":-0.78}]},"mark":{"type":"rule","color":"#666","strokeWidth":1.2},
 "encoding":{"x":{"field":"x","type":"quantitative"},"y":{"field":"y","type":"quantitative"},"y2":{"field":"y2"}}},
{"data":{"values":[{"x":0.069,"y":-0.473,"d":"up"},{"x":0.069,"y":-0.801,"d":"down"}]},"mark":{"type":"point","filled":true,"color":"#000","opacity":1,"size":490,"strokeWidth":0},
 "encoding":{"x":{"field":"x","type":"quantitative"},"y":{"field":"y","type":"quantitative"},
  "shape":{"field":"d","type":"nominal","legend":null,"scale":{"domain":["up","down"],"range":["M0,-1L0.54,1L0,0.82L-0.54,1Z","M0,1L0.54,-1L0,-0.82L-0.54,-1Z"]}}}},
{"data":{"values":[{"x":2.2,"y":0,"label":"Re(k)"}]},"mark":{"type":"text","align":"left","baseline":"middle","dx":7,"font":"Liberation Sans","fontSize":18,"color":"#000"},
 "encoding":{"x":{"field":"x","type":"quantitative"},"y":{"field":"y","type":"quantitative"},"text":{"field":"label"}}},
{"data":{"values":[{"x":0,"y":0.149,"label":"Im(k)"}]},"mark":{"type":"text","align":"center","baseline":"bottom","dy":-6,"font":"Liberation Sans","fontSize":18,"color":"#000"},
 "encoding":{"x":{"field":"x","type":"quantitative"},"y":{"field":"y","type":"quantitative"},"text":{"field":"label"}}}
]
}
]
}
